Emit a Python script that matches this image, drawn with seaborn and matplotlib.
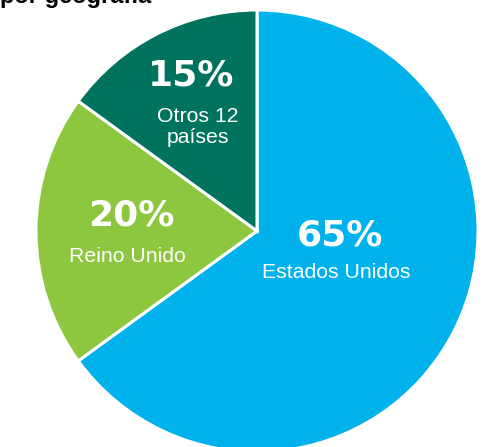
import matplotlib
matplotlib.use("Agg")
import matplotlib.pyplot as plt
import seaborn as sns

sns.set_theme(style="white")
plt.rcParams['font.family'] = ['Liberation Sans', 'DejaVu Sans']

categories = ["Estados Unidos", "Reino Unido", "Otros 12\npaíses"]
values = [65, 20, 15]
pct_labels = ["65%", "20%", "15%"]
colors = ["#00B2EB", "#8DC63F", "#00735F"]

W, H = 484, 447
fig = plt.figure(figsize=(W / 100, H / 100), dpi=100)
ax = fig.add_axes([0, 0, 1, 1])

cx, cy, r = 257, H - 231, 221
ax.pie(values, colors=colors, startangle=90, counterclock=False,
       center=(cx, cy), radius=r, frame=True,
       wedgeprops=dict(edgecolor="white", linewidth=2.2))
ax.set_xlim(0, W)
ax.set_ylim(0, H)
ax.set_aspect("equal")
ax.axis("off")

# label positions (pixel coords, top-left origin)
pct_pos = [(340, 235), (131, 215), (191, 75)]
cat_pos = [(336, 272), (127, 256), (198, 127)]
for p, c, (px, py), (lx, ly) in zip(pct_labels, categories, pct_pos, cat_pos):
    ax.text(px, H - py, p, ha="center", va="center", color="white",
            fontsize=26, fontweight="bold", family=["DejaVu Sans"])
    ax.text(lx, H - ly, c, ha="center", va="center", color="white",
            fontsize=15.3, linespacing=1.12)

fig.text(0.0, 1 - 3 / H, "por geografía", ha="left", va="baseline",
         fontsize=17, fontweight="bold", color="black")

fig.savefig("out.png", dpi=100)
